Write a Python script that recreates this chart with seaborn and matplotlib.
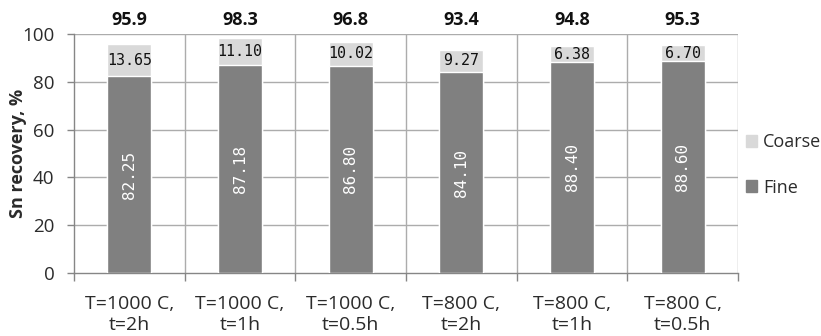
import matplotlib
matplotlib.use("Agg")
import matplotlib.pyplot as plt
import matplotlib.patches as mpatches
import numpy as np
import pandas as pd
import seaborn as sns

categories = ["T=1000 C,\nt=2h", "T=1000 C,\nt=1h", "T=1000 C,\nt=0.5h",
              "T=800 C,\nt=2h", "T=800 C,\nt=1h", "T=800 C,\nt=0.5h"]
fine = [82.25, 87.18, 86.80, 84.10, 88.40, 88.60]
coarse = [13.65, 11.10, 10.02, 9.27, 6.38, 6.70]
totals = [95.9, 98.3, 96.8, 93.4, 94.8, 95.3]

fine_color = "#808080"
coarse_color = "#d9d9d9"
grid_color = "#acacac"
axis_color = "#868686"
text_color = "#2b2b2b"

sns.set_theme(style="white")
plt.rcParams["font.family"] = ["Open Sans", "DejaVu Sans"]

df = pd.DataFrame({"cat": categories, "fine": fine, "coarse": coarse})
df["stack"] = df["fine"] + df["coarse"]

fig = plt.figure(figsize=(8.21, 3.36), dpi=100)
ax = fig.add_axes([74 / 821, 63 / 336, 664 / 821, 239 / 336])

# stacked bars: full height in light grey, fine fraction drawn over it
sns.barplot(data=df, x="cat", y="stack", color=coarse_color, width=0.4,
            saturation=1, ax=ax, zorder=3)
sns.barplot(data=df, x="cat", y="fine", color=fine_color, width=0.4,
            saturation=1, ax=ax, zorder=3)

n = len(categories)
ax.set_xlim(-0.5, n - 0.5)
ax.set_ylim(0, 100)
ax.set_yticks(np.arange(0, 101, 20))
ax.set_xlabel("")
ax.set_ylabel("Sn recovery, %", fontsize=13, fontweight="bold", color=text_color)
ax.yaxis.set_label_coords(-0.0708, 0.5)

# gridlines: horizontal at y ticks, vertical at category boundaries
for y in range(20, 101, 20):
    ax.axhline(y, color=grid_color, lw=1, zorder=1)
for b in np.arange(0.5, n - 0.5 + 0.01, 1.0):
    ax.axvline(b, color=grid_color, lw=1, zorder=1)

for s in ["top", "right"]:
    ax.spines[s].set_visible(False)
for s in ["left", "bottom"]:
    ax.spines[s].set_color(axis_color)
    ax.spines[s].set_linewidth(1)

ax.set_xticks(np.arange(-0.5, n, 1.0), minor=True)
ax.tick_params(axis="x", which="major", length=0, pad=16, labelsize=14,
               colors=text_color)
ax.tick_params(axis="x", which="minor", length=6, color=axis_color, width=1,
               direction="out", bottom=True)
ax.tick_params(axis="y", which="major", length=5, color=axis_color, width=1,
               direction="out", left=True, labelsize=13.5, colors=text_color,
               pad=9)
for lab in ax.get_xticklabels():
    lab.set_linespacing(1.2)

for i in range(n):
    ax.text(i, fine[i] / 2, f"{fine[i]:.2f}", rotation=90, ha="center",
            va="center", color="white", fontsize=11.5,
            family="DejaVu Sans Mono", zorder=5)
    ax.text(i, fine[i] + coarse[i] / 2, f"{coarse[i]:.2f}", ha="center",
            va="center", color="#111111", fontsize=10.8,
            family="DejaVu Sans Mono", zorder=5)
    ax.text(i, 106, f"{totals[i]:.1f}", ha="center", va="center",
            color="#111111", fontsize=13, fontweight="bold", clip_on=False)

handles = [mpatches.Patch(color=coarse_color, label="Coarse"),
           mpatches.Patch(color=fine_color, label="Fine")]
fig.legend(handles=handles, loc="center left",
           bbox_to_anchor=(746 / 821, 1 - 165 / 336),
           frameon=False, fontsize=13, handlelength=0.6, handleheight=0.6,
           handletextpad=0.35, labelspacing=1.5, borderpad=0, borderaxespad=0,
           labelcolor=text_color)

fig.savefig("out.png", dpi=100)
